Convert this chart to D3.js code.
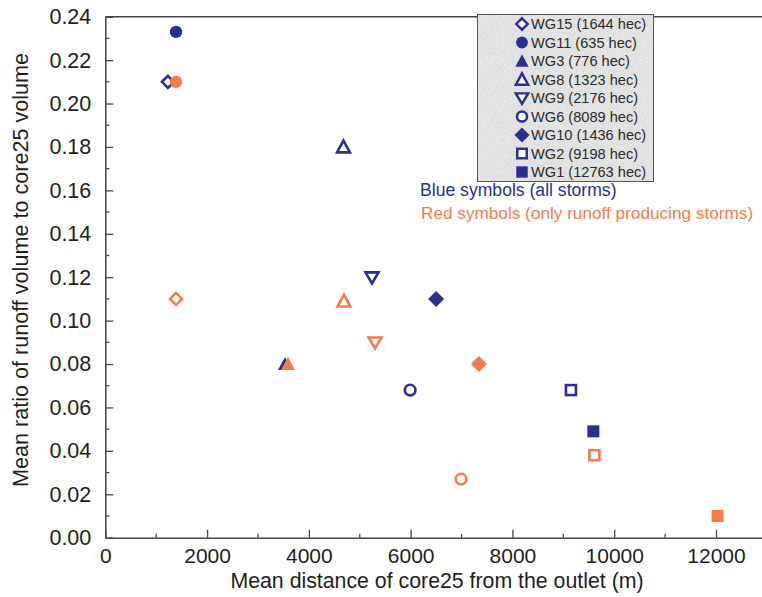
<!DOCTYPE html>
<html>
<head>
<meta charset="utf-8">
<script src="https://cdn.jsdelivr.net/npm/d3@7"></script>
<style>
  html, body { margin: 0; padding: 0; background: #fff; }
  svg { display: block; font-family: "Liberation Sans", Arial, sans-serif; }
</style>
</head>
<body>
<svg id="chart" width="762" height="597"></svg>
<script>
// Watershed groups: name, area, marker shape
const groups  = ["WG15", "WG11", "WG3", "WG8", "WG9", "WG6", "WG10", "WG2", "WG1"];
const areas   = [1644, 635, 776, 1323, 2176, 8089, 1436, 9198, 12763];
const shapes  = ["diamondOpen", "circleFilled", "triangleFilled", "triangleOpen", "triangleDownOpen",
                 "circleOpen", "diamondFilled", "squareOpen", "squareFilled"];

// All storms (blue)
const allDist  = [1230, 1390, 3530, 4680, 5240, 5990, 6500, 9150, 9590];
const allRatio = [0.210, 0.233, 0.080, 0.180, 0.120, 0.068, 0.110, 0.068, 0.049];

// Only runoff producing storms (red)
const runDist  = [1390, 1390, 3590, 4690, 5300, 6990, 7340, 9610, 12030];
const runRatio = [0.110, 0.210, 0.080, 0.109, 0.090, 0.027, 0.080, 0.038, 0.010];

const xTicks = [0, 2000, 4000, 6000, 8000, 10000, 12000];
const yTicks = [0, 0.02, 0.04, 0.06, 0.08, 0.10, 0.12, 0.14, 0.16, 0.18, 0.20, 0.22, 0.24];

const BLUE = "#2b2f90";
const RED = "#ef7d4d";
const AXIS = "#444";
const INK = "#1e1e1e";

const svg = d3.select("#chart");

// Grainy fill for the legend panel
const defs = svg.append("defs");
const grain = defs.append("filter").attr("id", "grain").attr("x", 0).attr("y", 0).attr("width", 1).attr("height", 1);
grain.append("feTurbulence").attr("type", "fractalNoise").attr("baseFrequency", 1.1).attr("numOctaves", 1).attr("seed", 3).attr("result", "noise");
grain.append("feColorMatrix").attr("in", "noise").attr("type", "matrix")
  .attr("values", "0 0 0 0 0.93  0 0 0 0 0.93  0 0 0 0 0.93  -0.9 0 0 0 0.95").attr("result", "light");
grain.append("feFlood").attr("flood-color", "#c9c9c9").attr("result", "base");
grain.append("feComposite").attr("in", "light").attr("in2", "base").attr("operator", "over");

const x = d3.scaleLinear().domain([0, 13000]).range([105.3, 766.9]);
const y = d3.scaleLinear().domain([0, 0.24]).range([537.7, 16.7]);

// Top frame line
svg.append("line").attr("x1", x(0)).attr("x2", 762).attr("y1", y(0.24)).attr("y2", y(0.24))
  .attr("stroke", AXIS).attr("stroke-width", 1.5);

// Y axis with inward ticks (major every 0.02, minor every 0.01)
const yAxis = svg.append("g").attr("transform", `translate(${x(0)},0)`);
yAxis.call(d3.axisLeft(y).tickValues(yTicks).tickFormat(d3.format(".2f")).tickSizeInner(-8).tickSizeOuter(0).tickPadding(14));
yAxis.selectAll(".tick text").attr("font-size", 21.5).attr("fill", INK);
yAxis.select(".domain").attr("stroke", AXIS).attr("stroke-width", 1.5);
yAxis.selectAll(".tick line").attr("stroke", AXIS).attr("stroke-width", 1.3);
const yMinor = d3.range(1, 24, 2).map(d => d / 100);
svg.append("g").selectAll("line").data(yMinor).join("line")
  .attr("x1", x(0)).attr("x2", x(0) + 4).attr("y1", d => y(d)).attr("y2", d => y(d))
  .attr("stroke", AXIS).attr("stroke-width", 1.3);

// X axis with inward ticks
const xAxis = svg.append("g").attr("transform", `translate(0,${y(0)})`);
xAxis.call(d3.axisBottom(x).tickValues(xTicks).tickFormat(d3.format("d")).tickSizeInner(-8).tickSizeOuter(0).tickPadding(10));
xAxis.selectAll(".tick text").attr("font-size", 21).attr("fill", INK);
xAxis.select(".domain").attr("stroke", AXIS).attr("stroke-width", 1.5);
xAxis.selectAll(".tick line").attr("stroke", AXIS).attr("stroke-width", 1.3);
const xMinor = d3.range(1000, 13000, 2000);
svg.append("g").selectAll("line").data(xMinor).join("line")
  .attr("x1", d => x(d)).attr("x2", d => x(d)).attr("y1", y(0)).attr("y2", y(0) - 4)
  .attr("stroke", AXIS).attr("stroke-width", 1.3);

// Axis titles
svg.append("text").attr("x", 437).attr("y", 588).attr("text-anchor", "middle")
  .attr("font-size", 21.3).attr("fill", INK)
  .text("Mean distance of core25 from the outlet (m)");
svg.append("text").attr("transform", `translate(28,${270}) rotate(-90)`).attr("text-anchor", "middle")
  .attr("font-size", 21.6).attr("fill", INK)
  .text("Mean ratio of runoff volume to core25 volume");

// Marker drawing
function marker(g, shape, color, scale) {
  const s = scale || 1;
  const open = shape.endsWith("Open");
  const sw = 2.6 * s;
  let el;
  if (shape.startsWith("circle")) {
    el = g.append("circle").attr("r", (open ? 5.3 : 6.2) * s);
  } else if (shape.startsWith("square")) {
    const h = (open ? 5 : 6) * s;
    el = g.append("rect").attr("x", -h).attr("y", -h).attr("width", 2 * h).attr("height", 2 * h);
  } else if (shape.startsWith("diamond")) {
    const h = (open ? 6 : 8) * s;
    el = g.append("path").attr("d", `M0,${-h}L${h},0L0,${h}L${-h},0Z`);
  } else if (shape.startsWith("triangleDown")) {
    const h = 6.5 * s;
    el = g.append("path").attr("d", `M${-h},${-h * 0.75}L${h},${-h * 0.75}L0,${h * 0.95}Z`);
  } else {
    const h = 7 * s;
    const hh = open ? h * 0.92 : h;
    el = g.append("path").attr("d", `M0,${-hh}L${hh},${hh * 0.85}L${-hh},${hh * 0.85}Z`);
  }
  if (open) el.attr("fill", "#fff").attr("stroke", color).attr("stroke-width", sw).attr("stroke-linejoin", "miter");
  else el.attr("fill", color).attr("stroke", "none");
}

// Points: all storms first, runoff producing storms on top
const pts = svg.append("g");
groups.forEach((g, i) => {
  marker(pts.append("g").attr("transform", `translate(${x(allDist[i])},${y(allRatio[i])})`), shapes[i], BLUE);
});
groups.forEach((g, i) => {
  marker(pts.append("g").attr("transform", `translate(${x(runDist[i])},${y(runRatio[i])})`), shapes[i], RED);
});

// Legend box
const leg = svg.append("g");
leg.append("rect").attr("x", 477.5).attr("y", 14.5).attr("width", 176).attr("height", 167)
  .attr("fill", "#e3e3e3").attr("filter", "url(#grain)");
leg.append("rect").attr("x", 477.5).attr("y", 14.5).attr("width", 176).attr("height", 167)
  .attr("fill", "none").attr("stroke", "#555").attr("stroke-width", 1);
groups.forEach((g, i) => {
  const cy = 24 + i * 18.5;
  marker(leg.append("g").attr("transform", `translate(522,${cy})`), shapes[i], BLUE, 0.95);
  leg.append("text").attr("x", 531).attr("y", cy + 5.3).attr("font-size", 14.6).attr("fill", "#2a2a2a")
    .text(`${g} (${areas[i]} hec)`);
});

// Colour notes
svg.append("text").attr("x", 420).attr("y", 196).attr("font-size", 17.6).attr("fill", BLUE)
  .text("Blue symbols (all storms)");
svg.append("text").attr("x", 421).attr("y", 219).attr("font-size", 17.2).attr("fill", RED)
  .text("Red symbols (only runoff producing storms)");
</script>
</body>
</html>
